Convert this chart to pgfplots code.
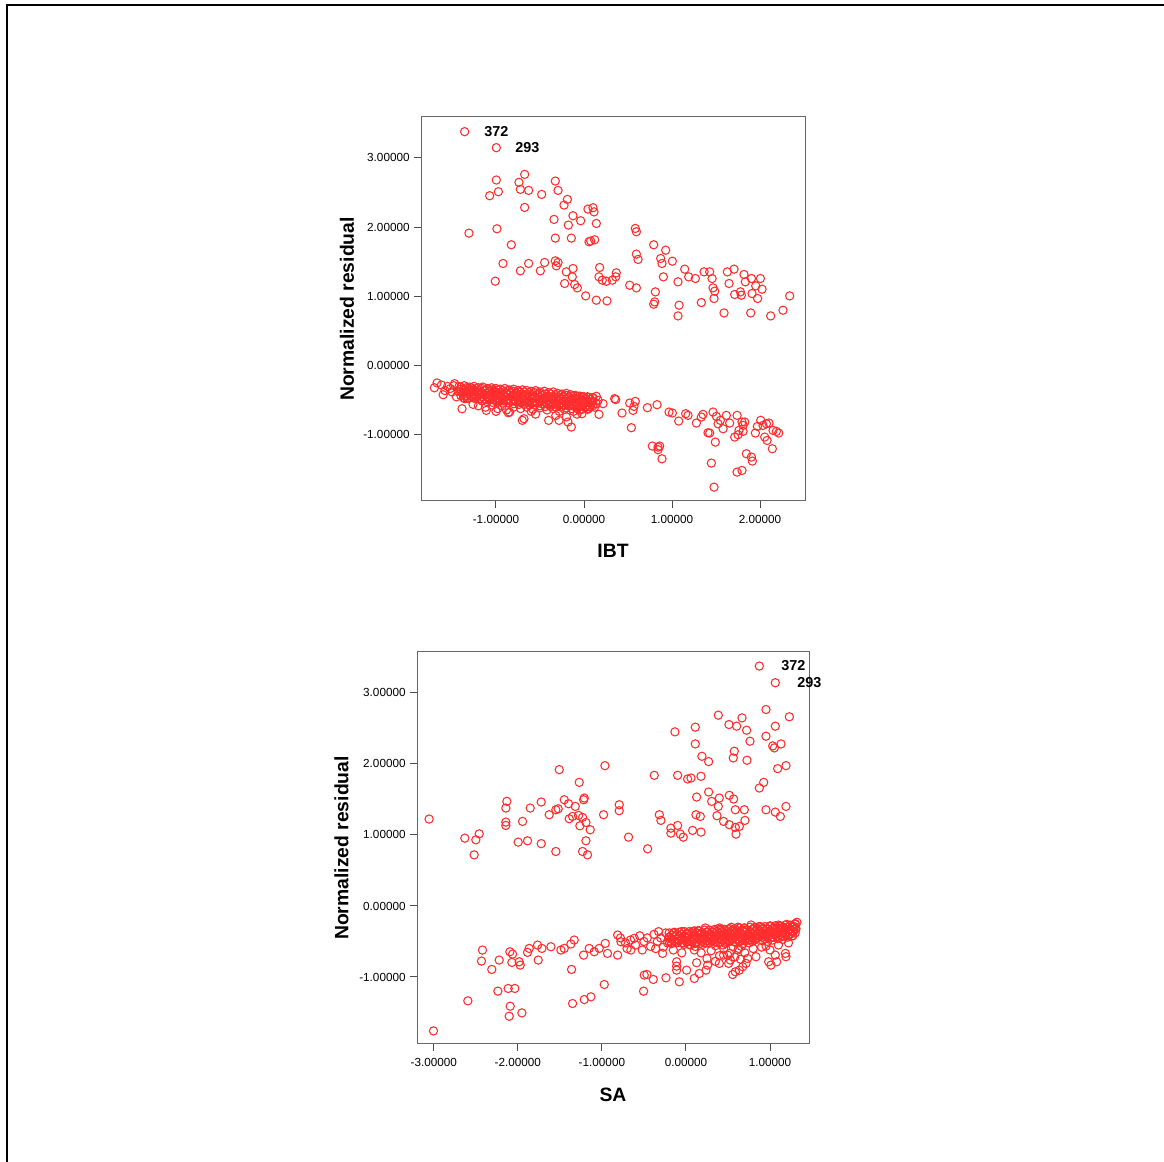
\documentclass[border=0pt]{standalone}
\usepackage{fontspec}
\setmainfont{Liberation Sans}
\usepackage{pgfplots}
\pgfplotsset{compat=1.18}
\definecolor{ptred}{RGB}{255,45,45}
\pgfplotsset{
 resid/.style={
  scale only axis,
  clip mode=individual,
  axis line style={black!60, line width=0.75pt},
  tick align=outside, xtick pos=bottom, ytick pos=left,
  major tick length=5pt, tick style={black!70, line width=0.75pt},
  ytick={-1,0,1,2,3},
  /pgf/number format/fixed, /pgf/number format/fixed zerofill,
  /pgf/number format/precision=5, /pgf/number format/assume math mode=true,
  tick label style={font=\fontsize{8.8}{10}\selectfont},
  xticklabel style={yshift=-2.5pt},
  ylabel={Normalized residual},
  every axis y label/.style={at={(axis description cs:-0.193,0.5)}, rotate=90, anchor=center,
     font=\fontsize{14.5}{16}\selectfont\bfseries},
  every axis x label/.style={at={(axis description cs:0.5,-0.13)}, anchor=center,
     font=\fontsize{14.5}{16}\selectfont\bfseries},
 },
 pts/.style={only marks, mark=o, mark size=3.1pt, mark options={ptred, line width=0.8pt}},
}
\begin{document}
\begin{tikzpicture}
\path[use as bounding box] (0,0) rectangle (873pt,871.5pt);
\draw[line width=1.5pt] (5.25pt,0) -- (5.25pt,867.75pt) -- (873pt,867.75pt);
% ---------- top: IBT ----------
\begin{axis}[resid, at={(315.75pt,495.75pt)}, anchor=south west,
  width=288pt, height=288pt,
  xmin=-1.852, xmax=2.511, ymin=-1.954, ymax=3.59,
  xtick={-1,0,1,2}, xlabel={IBT}]
\addplot[pts] coordinates {
(-1.356,3.378) (-0.996,3.147) (-0.674,2.761) (-0.996,2.68) (-0.326,2.665) (-0.739,2.646)
(-0.723,2.545) (-0.629,2.530) (-0.295,2.530) (-0.973,2.511) (-1.072,2.453) (-0.481,2.472)
(-0.189,2.4) (-0.227,2.318) (-0.674,2.284) (0.045,2.26) (0.102,2.28) (0.114,2.22)
(-0.125,2.164) (-0.341,2.111) (-0.038,2.092) (-0.178,2.029) (0.140,2.053) (-0.989,1.976)
(-1.307,1.913) (0.583,1.981) (0.595,1.933) (-0.326,1.841) (-0.144,1.841) (0.057,1.788)
(0.121,1.817) (0.076,1.8) (-0.826,1.745) (0.792,1.745) (0.928,1.667) (0.595,1.610)
(0.614,1.533) (0.871,1.547) (0.886,1.475) (1.004,1.508) (-0.920,1.475) (-0.629,1.475)
(-0.447,1.489) (-0.326,1.513) (-0.295,1.489) (-0.314,1.441) (-0.723,1.369) (-0.496,1.369)
(-0.201,1.354) (-0.125,1.402) (0.178,1.417) (0.367,1.34) (0.360,1.282) (-0.133,1.282)
(0.170,1.282) (0.208,1.234) (0.254,1.219) (0.322,1.234) (0.902,1.282) (1.144,1.393)
(1.189,1.282) (1.265,1.258) (1.364,1.354) (1.428,1.354) (1.455,1.258) (1.629,1.354)
(1.705,1.393) (1.648,1.186) (1.818,1.316) (1.833,1.210) (1.902,1.258) (2.004,1.258)
(1.951,1.152) (2.023,1.104) (1.466,1.123) (1.485,1.075) (1.477,0.969) (1.712,1.027)
(1.788,1.017) (1.777,1.065) (1.909,1.041) (1.973,0.969) (2.337,1.007) (2.261,0.800)
(2.121,0.718) (1.894,0.761) (1.591,0.761) (1.333,0.911) (1.068,1.210) (1.080,0.872)
(1.068,0.718) (0.811,1.065) (0.803,0.920) (0.792,0.887) (0.519,1.161) (0.595,1.123)
(-0.220,1.186) (-0.106,1.171) (-0.076,1.123) (0.019,1.007) (0.140,0.945) (0.261,0.935)
(-1.008,1.219)
% lower sparse
(0.170,-0.704) (0.216,-0.549) (0.348,-0.477) (0.360,-0.490) (0.432,-0.684) (0.519,-0.540)
(0.557,-0.646) (0.568,-0.588) (0.583,-0.516) (0.538,-0.896) (0.720,-0.607) (0.830,-0.564)
(0.966,-0.670) (1.004,-0.684) (1.076,-0.8) (1.155,-0.694) (1.182,-0.718) (1.277,-0.829)
(1.333,-0.742) (1.352,-0.704) (1.409,-0.969) (1.428,-0.973) (1.466,-0.670) (1.504,-0.733)
(1.523,-0.839) (1.549,-0.790) (1.580,-0.911) (1.617,-0.718) (1.655,-0.829) (1.739,-0.718)
(1.795,-0.814) (1.807,-0.863) (1.826,-0.814) (1.712,-1.031) (1.750,-0.998) (1.761,-0.935)
(1.807,-0.949) (1.947,-0.973) (1.970,-0.877) (2.008,-0.790) (2.034,-0.863) (2.072,-0.839)
(2.102,-0.829) (2.053,-1.031) (2.08,-1.080) (2.148,-0.935) (2.186,-0.949) (2.212,-0.973)
(2.140,-1.200) (1.492,-1.104) (1.447,-1.407) (1.477,-1.754) (1.739,-1.537) (1.795,-1.513)
(1.845,-1.272) (1.902,-1.320) (1.913,-1.378) (0.776,-1.161) (0.841,-1.176) (0.860,-1.161)
(0.841,-1.214) (0.886,-1.345)
% dense band
(-1.62,-0.28) (-1.55,-0.30) (-1.48,-0.29) (-1.42,-0.30) (-1.36,-0.29) (-1.30,-0.31) (-1.25,-0.30)
(-1.20,-0.32) (-1.15,-0.31) (-1.10,-0.33) (-1.05,-0.32) (-1.00,-0.33) (-0.95,-0.34) (-0.90,-0.33)
(-0.85,-0.35) (-0.80,-0.34) (-0.75,-0.36) (-0.70,-0.35) (-0.65,-0.36) (-0.60,-0.37) (-0.55,-0.36)
(-0.50,-0.38) (-0.45,-0.37) (-0.40,-0.39) (-0.35,-0.38) (-0.30,-0.40) (-0.25,-0.41) (-0.20,-0.40)
(-0.15,-0.42) (-0.10,-0.43) (-0.05,-0.44) (0.00,-0.45) (0.05,-0.46) (0.10,-0.47)
(-1.58,-0.36) (-1.50,-0.38) (-1.43,-0.37) (-1.37,-0.39) (-1.31,-0.38) (-1.26,-0.40) (-1.21,-0.39)
(-1.16,-0.41) (-1.11,-0.40) (-1.06,-0.42) (-1.01,-0.41) (-0.96,-0.42) (-0.91,-0.43) (-0.86,-0.42)
(-0.81,-0.44) (-0.76,-0.43) (-0.71,-0.45) (-0.66,-0.44) (-0.61,-0.45) (-0.56,-0.46) (-0.51,-0.45)
(-0.46,-0.47) (-0.41,-0.46) (-0.36,-0.48) (-0.31,-0.47) (-0.26,-0.49) (-0.21,-0.48) (-0.16,-0.50)
(-0.11,-0.51) (-0.06,-0.50) (-0.01,-0.52) (0.04,-0.53) (0.09,-0.52) (0.14,-0.55)
(-1.45,-0.45) (-1.33,-0.47) (-1.24,-0.46) (-1.18,-0.48) (-1.08,-0.49) (-1.02,-0.50) (-0.97,-0.49)
(-0.92,-0.51) (-0.87,-0.50) (-0.83,-0.52) (-0.78,-0.51) (-0.73,-0.53) (-0.68,-0.52) (-0.63,-0.53)
(-0.58,-0.54) (-0.53,-0.53) (-0.48,-0.55) (-0.43,-0.54) (-0.38,-0.56) (-0.33,-0.55) (-0.28,-0.57)
(-0.23,-0.56) (-0.18,-0.58) (-0.13,-0.57) (-0.08,-0.59) (-0.03,-0.58) (0.02,-0.60) (0.07,-0.59)
(-1.20,-0.58) (-1.12,-0.60) (-1.04,-0.57) (-0.98,-0.62) (-0.93,-0.58) (-0.88,-0.64) (-0.80,-0.60)
(-0.72,-0.62) (-0.65,-0.60) (-0.58,-0.63) (-0.50,-0.61) (-0.42,-0.64) (-0.35,-0.62) (-0.28,-0.66)
(-0.22,-0.63) (-0.12,-0.66) (-0.05,-0.64) (0.05,-0.62)
(-1.70,-0.32) (-1.67,-0.25) (-1.60,-0.42) (-1.52,-0.33) (-1.47,-0.26) (-1.40,-0.34) (-1.35,-0.44)
(-1.28,-0.35) (-1.22,-0.44) (-1.13,-0.36) (-1.08,-0.45) (-1.03,-0.37)
(-1.386,-0.622) (-1.261,-0.559) (-1.110,-0.646) (-0.845,-0.670) (-0.682,-0.766) (-0.701,-0.790)
(-0.402,-0.790) (-0.284,-0.790) (-0.182,-0.814) (-0.144,-0.887) (-0.023,-0.694) (0.140,-0.443)
(-1.356,-0.477) (-0.86,-0.68) (-0.55,-0.70) (-0.32,-0.72) (-0.20,-0.74) (-0.60,-0.66)
(-1.00,-0.66) (-0.08,-0.70) (0.12,-0.60) (0.16,-0.50)
% dense core
(-1.40,-0.31) (-1.34,-0.32) (-1.28,-0.32) (-1.22,-0.33) (-1.16,-0.33) (-1.10,-0.34) (-1.04,-0.35)
(-0.98,-0.35) (-0.92,-0.36) (-0.86,-0.36) (-0.80,-0.37) (-0.74,-0.38) (-0.68,-0.38) (-0.62,-0.39)
(-0.56,-0.39) (-0.50,-0.40) (-0.44,-0.41) (-0.38,-0.41) (-0.32,-0.42) (-0.26,-0.42) (-0.20,-0.43)
(-0.14,-0.44) (-0.08,-0.44) (-0.02,-0.45) (0.04,-0.45) (0.10,-0.46)
(-1.40,-0.37) (-1.34,-0.38) (-1.28,-0.38) (-1.22,-0.39) (-1.16,-0.39) (-1.10,-0.40) (-1.04,-0.41)
(-0.98,-0.41) (-0.92,-0.42) (-0.86,-0.42) (-0.80,-0.43) (-0.74,-0.44) (-0.68,-0.44) (-0.62,-0.45)
(-0.56,-0.45) (-0.50,-0.46) (-0.44,-0.47) (-0.38,-0.47) (-0.32,-0.48) (-0.26,-0.48) (-0.20,-0.49)
(-0.14,-0.50) (-0.08,-0.50) (-0.02,-0.51) (0.04,-0.51) (0.10,-0.52)
(-1.40,-0.43) (-1.34,-0.44) (-1.28,-0.44) (-1.22,-0.45) (-1.16,-0.45) (-1.10,-0.46) (-1.04,-0.47)
(-0.98,-0.47) (-0.92,-0.48) (-0.86,-0.48) (-0.80,-0.49) (-0.74,-0.50) (-0.68,-0.50) (-0.62,-0.51)
(-0.56,-0.51) (-0.50,-0.52) (-0.44,-0.53) (-0.38,-0.53) (-0.32,-0.54) (-0.26,-0.54) (-0.20,-0.55)
(-0.14,-0.56) (-0.08,-0.56) (-0.02,-0.57) (0.04,-0.57) (0.10,-0.58)
(-1.16,-0.51) (-1.10,-0.52) (-1.04,-0.53) (-0.98,-0.53) (-0.92,-0.54) (-0.86,-0.54) (-0.80,-0.55)
(-0.74,-0.56) (-0.68,-0.56) (-0.62,-0.57) (-0.56,-0.57) (-0.50,-0.58) (-0.44,-0.59) (-0.38,-0.59)
(-0.32,-0.60) (-0.26,-0.60) (-0.20,-0.61) (-0.14,-0.62) (-0.08,-0.62) (-0.02,-0.63) (0.04,-0.63)
(-1.37,-0.34) (-1.31,-0.35) (-1.25,-0.35) (-1.19,-0.36) (-1.13,-0.36) (-1.07,-0.37) (-1.01,-0.38)
(-0.95,-0.38) (-0.89,-0.39) (-0.83,-0.39) (-0.77,-0.40) (-0.71,-0.41) (-0.65,-0.41) (-0.59,-0.42)
(-0.53,-0.42) (-0.47,-0.43) (-0.41,-0.44) (-0.35,-0.44) (-0.29,-0.45) (-0.23,-0.45) (-0.17,-0.46)
(-0.11,-0.47) (-0.05,-0.47) (0.01,-0.48) (0.07,-0.48)
(-1.37,-0.40) (-1.31,-0.41) (-1.25,-0.41) (-1.19,-0.42) (-1.13,-0.42) (-1.07,-0.43) (-1.01,-0.44)
(-0.95,-0.44) (-0.89,-0.45) (-0.83,-0.45) (-0.77,-0.46) (-0.71,-0.47) (-0.65,-0.47) (-0.59,-0.48)
(-0.53,-0.48) (-0.47,-0.49) (-0.41,-0.50) (-0.35,-0.50) (-0.29,-0.51) (-0.23,-0.51) (-0.17,-0.52)
(-0.11,-0.53) (-0.05,-0.53) (0.01,-0.54) (0.07,-0.54)
(-1.37,-0.46) (-1.31,-0.47) (-1.25,-0.47) (-1.19,-0.48) (-1.13,-0.48) (-1.07,-0.49) (-1.01,-0.50)
(-0.95,-0.50) (-0.89,-0.51) (-0.83,-0.51) (-0.77,-0.52) (-0.71,-0.53) (-0.65,-0.53) (-0.59,-0.54)
(-0.53,-0.54) (-0.47,-0.55) (-0.41,-0.56) (-0.35,-0.56) (-0.29,-0.57) (-0.23,-0.57) (-0.17,-0.58)
(-0.11,-0.59) (-0.05,-0.59) (0.01,-0.60) (0.07,-0.60)
};
\node[anchor=west, inner sep=0, font=\fontsize{10.8}{12}\selectfont\bfseries] at (axis cs:-1.136,3.378) {372};
\node[anchor=west, inner sep=0, font=\fontsize{10.8}{12}\selectfont\bfseries] at (axis cs:-0.784,3.147) {293};
\end{axis}
% ---------- bottom: SA ----------
\begin{axis}[resid, at={(312.75pt,88.5pt)}, anchor=south west,
  width=294pt, height=294pt,
  xmin=-3.20, xmax=1.464, ymin=-1.944, ymax=3.577,
  xtick={-3,-2,-1,0,1}, xlabel={SA}]
\addplot[pts] coordinates {
(0.873,3.379) (1.063,3.144) (0.952,2.767) (0.385,2.687) (0.667,2.649) (0.512,2.555)
(0.603,2.532) (1.063,2.532) (1.230,2.664) (-0.131,2.452) (0.111,2.518) (0.722,2.475)
(0.952,2.391) (0.762,2.320) (0.111,2.282) (1.032,2.254) (1.052,2.226) (1.131,2.282)
(0.575,2.179) (0.563,2.085) (0.190,2.108) (0.270,2.033) (0.726,2.052) (1.091,1.934)
(1.19,1.976) (-0.377,1.840) (-0.099,1.840) (0.020,1.788) (0.060,1.802) (0.179,1.826)
(0.925,1.741) (0.873,1.661) (0.270,1.605) (0.306,1.473) (0.397,1.520) (0.516,1.558)
(0.567,1.506) (0.127,1.534) (0.385,1.402) (0.369,1.271) (0.119,1.285) (0.171,1.261)
(0.587,1.355) (0.694,1.355) (0.702,1.205) (0.448,1.191) (0.516,1.144) (0.587,1.106)
(0.635,1.120) (0.595,1.012) (0.952,1.355) (1.063,1.322) (1.123,1.261) (1.19,1.402)
(0.079,1.064) (0.179,1.040) (-0.317,1.285) (-0.298,1.205) (-0.179,1.096) (-0.179,1.026)
(-0.099,1.134) (-0.067,1.012) (-0.032,0.969) (-0.456,0.805) (-0.683,0.969) (-0.980,1.285)
(-0.794,1.426) (-0.794,1.341) (-0.964,1.976) (-1.508,1.920) (-1.270,1.741) (-1.448,1.496)
(-1.397,1.440) (-1.317,1.402) (-1.218,1.496) (-1.210,1.520) (-1.548,1.355) (-1.52,1.369)
(-1.627,1.285) (-1.389,1.228) (-1.349,1.261) (-1.278,1.275) (-1.23,1.247) (-1.190,1.176)
(-1.262,1.129) (-1.139,1.073) (-1.190,0.918) (-1.230,0.767) (-1.171,0.720) (-1.548,0.767)
(-1.722,1.464) (-1.853,1.379) (-1.722,0.878) (-1.885,0.918) (-1.996,0.899) (-1.944,1.191)
(-2.131,1.473) (-2.143,1.379) (-2.143,1.181) (-2.143,1.134) (-2.460,1.016) (-2.5,0.932)
(-2.631,0.955) (-2.520,0.720) (-3.056,1.224)
% lower scattered
(-3.004,-1.760) (-2.595,-1.336) (-2.421,-0.621) (-2.433,-0.776) (-2.310,-0.894) (-2.222,-0.762)
(-2.238,-1.2) (-2.115,-1.162) (-2.036,-1.162) (-2.091,-1.412) (-2.103,-1.553) (-1.952,-1.506)
(-2.095,-0.645) (-2.071,-0.795) (-2.063,-0.678) (-1.984,-0.786) (-1.972,-0.833) (-1.885,-0.654)
(-1.865,-0.598) (-1.766,-0.551) (-1.758,-0.762) (-1.714,-0.598) (-1.607,-0.574) (-1.488,-0.621)
(-1.448,-0.598) (-1.369,-0.536) (-1.329,-0.480) (-1.361,-0.894) (-1.349,-1.374) (-1.210,-1.318)
(-1.131,-1.280) (-0.972,-1.106) (-1.218,-0.692) (-1.151,-0.598) (-1.091,-0.645) (-1.032,-0.598)
(-0.960,-0.527) (-0.933,-0.668) (-0.813,-0.409) (-0.813,-0.692) (-0.774,-0.504) (-0.655,-0.621)
(-0.615,-0.456) (-0.496,-0.974) (-0.464,-0.965) (-0.504,-1.2) (-0.389,-1.035) (-0.238,-1.012)
(-0.325,-0.362) (-0.278,-0.668) (-0.111,-0.786) (-0.111,-0.847) (-0.111,-0.904) (-0.079,-1.068)
(0.008,-0.904) (0.099,-1.021) (0.127,-0.800) (0.159,-0.951) (0.238,-0.904) (0.258,-0.833)
(0.397,-0.809) (0.448,-0.692) (0.496,-0.692) (0.528,-0.762) (0.508,-0.809) (0.556,-0.965)
(0.587,-0.927) (0.635,-0.904) (0.675,-0.856) (0.714,-0.809) (0.734,-0.739) (0.627,-0.598)
(0.833,-0.715) (0.984,-0.786) (1.012,-0.833) (1.063,-0.692) (1.079,-0.786) (1.183,-0.668)
(1.190,-0.715) (0.774,-0.268) (0.952,-0.565)
% band
(-0.20,-0.44) (-0.15,-0.38) (-0.12,-0.50) (-0.08,-0.42) (-0.05,-0.36) (-0.03,-0.52) (0.00,-0.45)
(0.03,-0.39) (0.05,-0.55) (0.07,-0.47) (0.10,-0.41) (0.12,-0.52) (0.14,-0.35) (0.16,-0.46)
(0.18,-0.40) (0.20,-0.54) (0.22,-0.43) (0.24,-0.37) (0.26,-0.49) (0.28,-0.44) (-0.18,-0.50)
(-0.10,-0.47) (0.02,-0.50) (0.08,-0.36) (0.13,-0.44) (0.19,-0.48) (0.25,-0.52) (-0.06,-0.48)
(0.11,-0.57) (0.23,-0.31)
(0.30,-0.40) (0.32,-0.48) (0.34,-0.35) (0.36,-0.44) (0.38,-0.52) (0.40,-0.31) (0.41,-0.41)
(0.43,-0.47) (0.45,-0.37) (0.47,-0.53) (0.48,-0.43) (0.50,-0.33) (0.52,-0.49) (0.53,-0.39)
(0.55,-0.45) (0.57,-0.35) (0.58,-0.51) (0.60,-0.42) (0.62,-0.30) (0.63,-0.47) (0.65,-0.38)
(0.67,-0.44) (0.68,-0.53) (0.70,-0.34) (0.72,-0.41) (0.74,-0.48) (0.76,-0.37) (0.78,-0.43)
(0.80,-0.32) (0.82,-0.46) (0.84,-0.40) (0.35,-0.56) (0.44,-0.55) (0.56,-0.57) (0.66,-0.57)
(0.75,-0.52) (0.39,-0.45) (0.46,-0.40) (0.51,-0.46) (0.59,-0.37) (0.64,-0.50) (0.71,-0.45)
(0.79,-0.50) (0.83,-0.35) (0.42,-0.34) (0.54,-0.30) (0.69,-0.31)
(0.86,-0.36) (0.88,-0.43) (0.90,-0.30) (0.92,-0.38) (0.94,-0.46) (0.96,-0.33) (0.98,-0.41)
(1.00,-0.28) (1.02,-0.36) (1.04,-0.44) (1.06,-0.31) (1.08,-0.39) (1.10,-0.27) (1.12,-0.35)
(1.14,-0.42) (1.16,-0.30) (1.18,-0.37) (1.20,-0.26) (1.22,-0.33) (1.24,-0.40) (1.26,-0.29)
(1.28,-0.36) (1.30,-0.25) (1.31,-0.32) (0.91,-0.49) (0.97,-0.50) (1.03,-0.48) (1.09,-0.46)
(1.15,-0.47) (1.21,-0.44) (1.27,-0.42) (0.87,-0.29) (0.95,-0.39) (1.01,-0.45) (1.07,-0.34)
(1.13,-0.29) (1.19,-0.41) (1.25,-0.35) (1.29,-0.29) (1.32,-0.23)
(-0.78,-0.45) (-0.72,-0.52) (-0.66,-0.48) (-0.60,-0.55) (-0.55,-0.42) (-0.50,-0.50) (-0.46,-0.45)
(-0.42,-0.57) (-0.38,-0.40) (-0.34,-0.50) (-0.30,-0.45) (-0.27,-0.58) (-0.24,-0.38) (-0.22,-0.52)
(-0.70,-0.60) (-0.52,-0.62) (-0.36,-0.60)
(0.10,-0.62) (0.18,-0.66) (0.30,-0.63) (0.40,-0.70) (0.45,-0.60) (0.52,-0.67) (0.58,-0.72)
(0.62,-0.62) (0.70,-0.66) (0.80,-0.60) (0.90,-0.58) (1.00,-0.62) (1.10,-0.55) (1.22,-0.52)
(0.25,-0.74) (0.35,-0.78) (0.65,-0.75) (-0.15,-0.62) (-0.05,-0.66)
% dense core
(-0.20,-0.38) (-0.14,-0.37) (-0.08,-0.37) (-0.02,-0.36) (0.04,-0.36) (0.10,-0.35) (0.16,-0.35)
(0.22,-0.34) (0.28,-0.34) (0.34,-0.33) (0.40,-0.33) (0.46,-0.33) (0.52,-0.32) (0.58,-0.32)
(0.64,-0.31) (0.70,-0.31) (0.76,-0.30) (0.82,-0.30) (0.88,-0.29) (0.94,-0.29) (1.00,-0.29)
(1.06,-0.28) (1.12,-0.28) (1.18,-0.27) (1.24,-0.27) (1.30,-0.26)
(-0.20,-0.44) (-0.14,-0.43) (-0.08,-0.43) (-0.02,-0.42) (0.04,-0.42) (0.10,-0.41) (0.16,-0.41)
(0.22,-0.40) (0.28,-0.40) (0.34,-0.39) (0.40,-0.39) (0.46,-0.39) (0.52,-0.38) (0.58,-0.38)
(0.64,-0.37) (0.70,-0.37) (0.76,-0.36) (0.82,-0.36) (0.88,-0.35) (0.94,-0.35) (1.00,-0.35)
(1.06,-0.34) (1.12,-0.34) (1.18,-0.33) (1.24,-0.33) (1.30,-0.32)
(-0.20,-0.50) (-0.14,-0.49) (-0.08,-0.49) (-0.02,-0.48) (0.04,-0.48) (0.10,-0.47) (0.16,-0.47)
(0.22,-0.46) (0.28,-0.46) (0.34,-0.45) (0.40,-0.45) (0.46,-0.45) (0.52,-0.44) (0.58,-0.44)
(0.64,-0.43) (0.70,-0.43) (0.76,-0.42) (0.82,-0.42) (0.88,-0.41) (0.94,-0.41) (1.00,-0.41)
(1.06,-0.40) (1.12,-0.40) (1.18,-0.39) (1.24,-0.39) (1.30,-0.38)
(-0.02,-0.54) (0.04,-0.54) (0.10,-0.53) (0.16,-0.53) (0.22,-0.52) (0.28,-0.52) (0.34,-0.51)
(0.40,-0.51) (0.46,-0.51) (0.52,-0.50) (0.58,-0.50) (0.64,-0.49) (0.70,-0.49) (0.76,-0.48)
(0.82,-0.48)
(-0.17,-0.41) (-0.11,-0.40) (-0.05,-0.40) (0.01,-0.39) (0.07,-0.39) (0.13,-0.38) (0.19,-0.38)
(0.25,-0.37) (0.31,-0.37) (0.37,-0.36) (0.43,-0.36) (0.49,-0.36) (0.55,-0.35) (0.61,-0.35)
(0.67,-0.34) (0.73,-0.34) (0.79,-0.33) (0.85,-0.33) (0.91,-0.32) (0.97,-0.32) (1.03,-0.32)
(1.09,-0.31) (1.15,-0.31) (1.21,-0.30) (1.27,-0.30)
(-0.17,-0.47) (-0.11,-0.46) (-0.05,-0.46) (0.01,-0.45) (0.07,-0.45) (0.13,-0.44) (0.19,-0.44)
(0.25,-0.43) (0.31,-0.43) (0.37,-0.42) (0.43,-0.42) (0.49,-0.42) (0.55,-0.41) (0.61,-0.41)
(0.67,-0.40) (0.73,-0.40) (0.79,-0.39) (0.85,-0.39) (0.91,-0.38) (0.97,-0.38) (1.03,-0.38)
(1.09,-0.37) (1.15,-0.37) (1.21,-0.36) (1.27,-0.36)
(-0.17,-0.53) (-0.11,-0.52) (-0.05,-0.52) (0.01,-0.51) (0.07,-0.51) (0.13,-0.50) (0.19,-0.50)
(0.25,-0.49) (0.31,-0.49) (0.37,-0.48) (0.43,-0.48) (0.49,-0.48) (0.55,-0.47) (0.61,-0.47)
(0.67,-0.46) (0.73,-0.46) (0.79,-0.45) (0.85,-0.45) (0.91,-0.44) (0.97,-0.44) (1.03,-0.44)
(1.09,-0.43) (1.15,-0.43) (1.21,-0.42) (1.27,-0.42)
};
\node[anchor=west, inner sep=0, font=\fontsize{10.8}{12}\selectfont\bfseries] at (axis cs:1.131,3.379) {372};
\node[anchor=west, inner sep=0, font=\fontsize{10.8}{12}\selectfont\bfseries] at (axis cs:1.321,3.144) {293};
\end{axis}
\end{tikzpicture}
\end{document}
